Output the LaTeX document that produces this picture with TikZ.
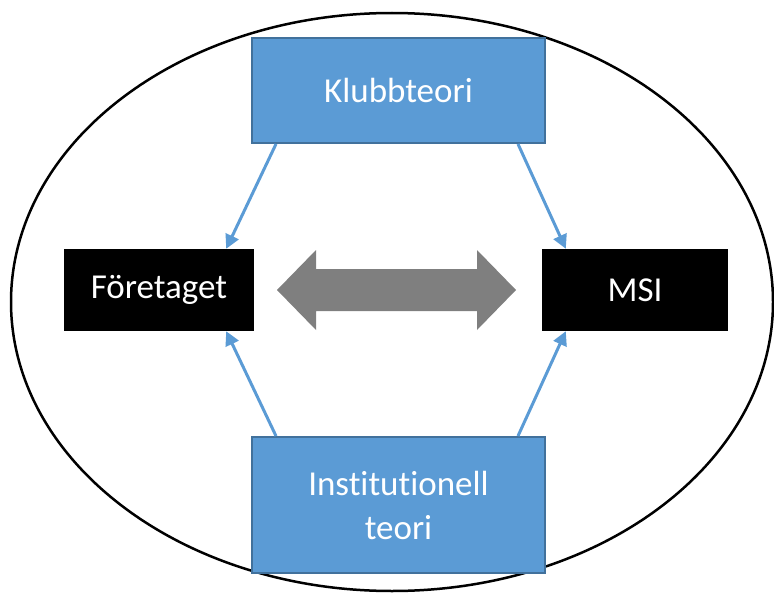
\documentclass[tikz,border=0pt]{standalone}
\usepackage{fontspec}
\setmainfont{Carlito}[Ligatures={NoCommon}]
\usepackage{tikz}
\usetikzlibrary{arrows.meta}

\definecolor{boxblue}{HTML}{5B9BD5}
\definecolor{boxedge}{HTML}{41719C}
\definecolor{arrgray}{HTML}{7F7F7F}

\begin{document}
\begin{tikzpicture}[x=1pt,y=-1pt,>={Triangle[length=14pt,width=14pt]},
	theory/.style={draw=boxedge,line width=2pt,fill=boxblue,text=white,minimum width=293pt,inner sep=0pt,align=center,font=\fontsize{35}{44}\selectfont},
	actor/.style={fill=black,text=white,inner sep=0pt,minimum height=82pt,font=\fontsize{35}{44}\selectfont},
	link/.style={->,line width=3pt,boxblue}]
		    
			    \useasboundingbox (0,0) rectangle (774,594);
			    
			    \draw [line width=2.5pt] (392,302) ellipse [x radius=381, y radius=289];
			    
			    \node [theory,minimum height=105pt] (klubb) at (398.5,90.5) {Klubbteori};
			    \node [theory,minimum height=136pt] (inst) at (398.5,505) {Institutionell\\teori};
			    \node [actor,minimum width=190pt] (foretaget) at (159,290) {Företaget};
			    \node [actor,minimum width=186pt] (msi) at (635,290) {MSI};
			    
			    \fill [arrgray] (277,290) -- (316,250) -- (316,269) -- (477,269) -- (477,250) -- (516,290)
			        -- (477,330) -- (477,311) -- (316,311) -- (316,330) -- cycle;
			    
			    \draw [link] ([xshift=25pt]klubb.south west) -- ([xshift=-28pt]foretaget.north east);
			    \draw [link] ([xshift=-28pt]klubb.south east) -- ([xshift=24pt]msi.north west);
			    \draw [link] ([xshift=25pt]inst.north west) -- ([xshift=-28pt]foretaget.south east);
			    \draw [link] ([xshift=-28pt]inst.north east) -- ([xshift=24pt]msi.south west);
	
		    \end{tikzpicture}
\end{document}
